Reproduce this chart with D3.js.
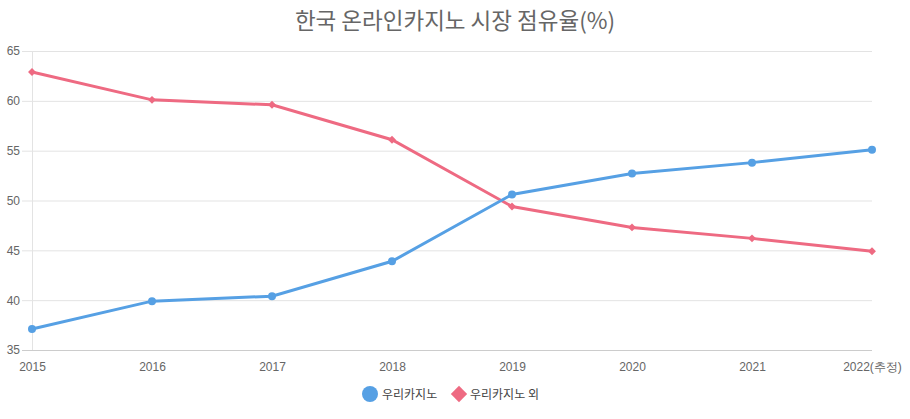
<!DOCTYPE html>
<html><head><meta charset="utf-8">
<script src="https://cdn.jsdelivr.net/npm/d3@7"></script>
<style>body{margin:0;background:#fff;}svg{display:block;font-family:"Noto Sans CJK KR","Noto Sans",sans-serif;}</style>
</head><body><svg id="c" width="910" height="419"></svg>
<script>
const years = ["2015","2016","2017","2018","2019","2020","2021","2022(추정)"];
const wooriCasino = [37.1,39.9,40.4,43.9,50.6,52.7,53.8,55.1];
const otherCasino = [62.9,60.1,59.6,56.1,49.4,47.3,46.2,44.9];
const yTicks = [35,40,45,50,55,60,65];
const seriesNames = ["우리카지노","우리카지노 외"];
const titleText = "한국 온라인카지노 시장 점유율(%)";

const svg = d3.select("#c");
const x = d3.scalePoint().domain(years).range([32,872]);
const y = d3.scaleLinear().domain([35,65]).range([350,51]);
const blue = "#56A0E4", red = "#EE6A82";

svg.append("text").attr("x",455).attr("y",29).attr("text-anchor","middle")
  .attr("font-size",22.5).attr("fill","#666").text(titleText);

// grid
svg.append("g").selectAll("line").data(yTicks).join("line")
  .attr("x1",22).attr("x2",872).attr("y1",d=>y(d)+0.5).attr("y2",d=>y(d)+0.5)
  .attr("stroke",d=>d===35?"#ccc":"#e3e3e3").attr("stroke-width",1);
svg.append("line").attr("x1",32.5).attr("x2",32.5).attr("y1",y(65)).attr("y2",y(35)).attr("stroke","#e3e3e3");
const gl = svg.append("g").attr("transform","translate(20,0)")
  .call(d3.axisLeft(y).tickValues(yTicks).tickSize(0).tickPadding(0));
gl.select(".domain").remove();
gl.selectAll("text").attr("font-size",12).attr("fill","#666").attr("font-family","'Liberation Sans',Arial,sans-serif");

const gx = svg.append("g").attr("transform","translate(0,362)")
  .call(d3.axisBottom(x).tickSize(0).tickPadding(0));
gx.select(".domain").remove();
gx.selectAll("text").attr("font-size",12).attr("fill","#666").attr("dy","0.71em");

const line = d3.line().x((d,i)=>x(years[i])).y(d=>y(d));
svg.append("path").datum(otherCasino).attr("d",line).attr("fill","none").attr("stroke",red).attr("stroke-width",3);
svg.append("path").datum(wooriCasino).attr("d",line).attr("fill","none").attr("stroke",blue).attr("stroke-width",3);

svg.append("g").selectAll("path").data(otherCasino).join("path")
  .attr("d",d3.symbol(d3.symbolDiamond2,40)).attr("transform",(d,i)=>`translate(${x(years[i])},${y(d)})`)
  .attr("fill",red);
svg.append("g").selectAll("circle").data(wooriCasino).join("circle")
  .attr("cx",(d,i)=>x(years[i])).attr("cy",d=>y(d)).attr("r",4).attr("fill",blue);

// legend
const lg = svg.append("g");
lg.append("circle").attr("cx",370).attr("cy",394).attr("r",8).attr("fill",blue);
lg.append("text").attr("x",382).attr("y",398.5).attr("font-size",12).attr("fill","#444").text(seriesNames[0]);
lg.append("path").attr("d",d3.symbol(d3.symbolDiamond2,170)).attr("transform","translate(459,394)").attr("fill",red);
lg.append("text").attr("x",470).attr("y",398.5).attr("font-size",12).attr("fill","#444").text(seriesNames[1]);
</script></body></html>
